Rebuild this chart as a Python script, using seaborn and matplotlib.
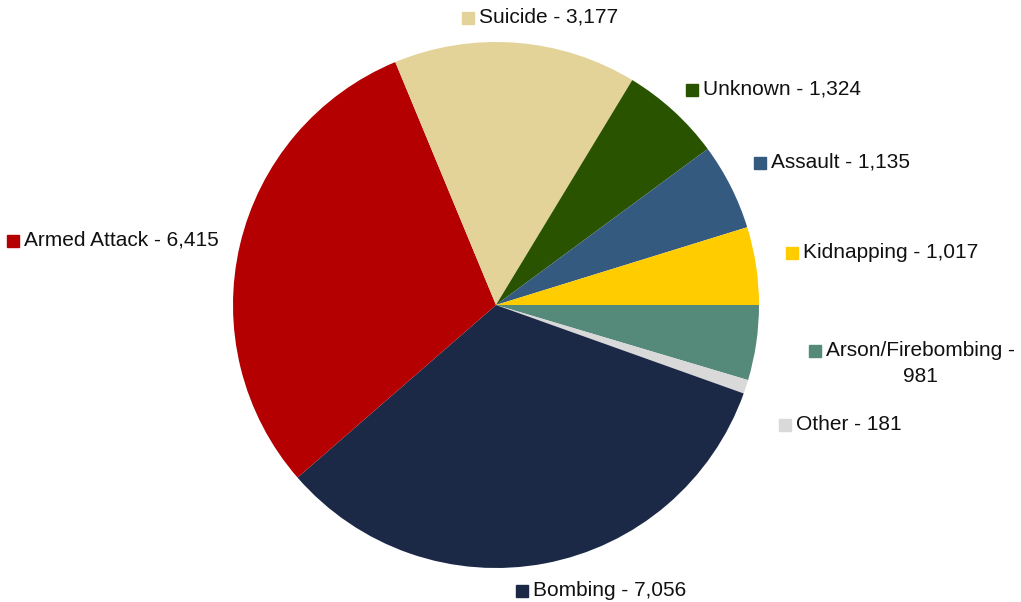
import matplotlib
matplotlib.use("Agg")
import matplotlib.pyplot as plt
import seaborn as sns

# slice order as drawn, clockwise from 3 o'clock
categories = ["Arson/Firebombing", "Other", "Bombing", "Armed Attack",
              "Suicide", "Unknown", "Assault", "Kidnapping"]
counts = [981, 181, 7056, 6415, 3177, 1324, 1135, 1017]
colors = ["#558A7B", "#D9D9D9", "#1B2947", "#B40000",
          "#E3D398", "#2A5300", "#355A80", "#FFCC00"]

# label anchors in pixels (marker centre x, y), text starts just right of marker
label_px = [(815, 351), (785, 425), (522, 591), (13, 241),
            (468, 18), (692, 90), (760, 163), (792, 253)]

sns.set_theme(style="white")
plt.rcParams["font.family"] = ["Liberation Sans", "DejaVu Sans"]

W, H = 1021, 602
cx, cy, R = 496, 305, 263

fig = plt.figure(figsize=(W / 100, H / 100), dpi=100)
ax = fig.add_axes([0, 0, 1, 1])

ax.pie(counts, colors=colors, startangle=0, counterclock=False,
       radius=1, center=(0, 0), wedgeprops=dict(linewidth=0))

ax.set_xlim(-cx / R, (W - cx) / R)
ax.set_ylim(-(H - cy) / R, cy / R)
ax.set_aspect("auto")
ax.axis("off")


def to_data(px, py):
    return (px - cx) / R, (cy - py) / R


for name, val, col, (px, py) in zip(categories, counts, colors, label_px):
    mx, my = to_data(px, py)
    ax.plot([mx], [my], marker="s", ms=8.5, color=col, linestyle="none",
            clip_on=False)
    if name == "Arson/Firebombing":
        txt = f"{name} -\n{val:,}"
        tx, ty = to_data(px + 11, py - 10)
        ax.text(tx, ty, txt, ha="left", va="top", multialignment="center",
                fontsize=15, color="#111111", linespacing=1.45)
    else:
        txt = f"{name} - {val:,}"
        tx, ty = to_data(px + 11, py - 1)
        ax.text(tx, ty, txt, ha="left", va="center", fontsize=15,
                color="#111111")

fig.savefig("out.png", dpi=100)
